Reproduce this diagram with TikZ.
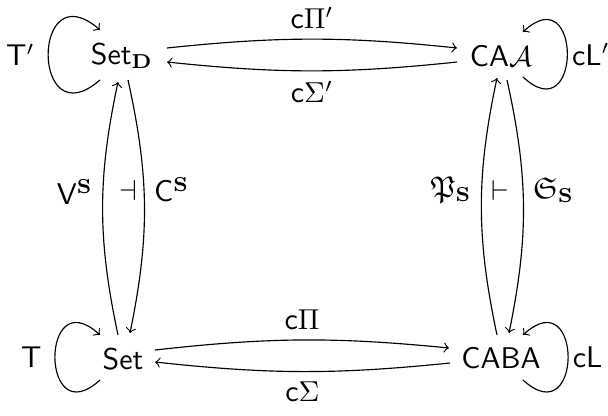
\documentclass[tikz,border=0pt]{standalone}
\usepackage{amsmath}
\usepackage{amssymb}
\usetikzlibrary{calc}

\begin{document}
\begin{tikzpicture}[x=0.01221cm, y=-0.01221cm,
  every node/.append style={font=\fontsize{10.4}{12.5}\selectfont\sffamily},
  obj/.style={inner sep=0pt, anchor=base},
  lbl/.style={},
  looplbl/.style={inner sep=1.5pt},
  arrow/.style={->}
]
  \useasboundingbox (0,0) rectangle (608,415);

  % objects
  \node[obj] (setd) at (122,64) {Set$_{\mathbf{D}}$};
  \node[obj] (caa) at (501,66) {CA$\mathcal{A}$};
  \node[obj] (set) at (123,369) {Set};
  \node[obj] (caba) at (501,368) {CABA};

  % horizontal pairs
  \draw[arrow] ([shift={(45,-16)}]setd.base) to[bend left=6] node[lbl, above] {c$\Pi'$} ([shift={(-44,-18)}]caa.base);
  \draw[arrow] ([shift={(-44,-4)}]caa.base) to[bend left=6] node[lbl, below] {c$\Sigma'$} ([shift={(45,-2)}]setd.base);
  \draw[arrow] ([shift={(32,-19)}]set.base) to[bend left=6] node[lbl, above] {c$\Pi$} ([shift={(-52,-20)}]caba.base);
  \draw[arrow] ([shift={(-51,-5)}]caba.base) to[bend left=6] node[lbl, below] {c$\Sigma$} ([shift={(32,-7)}]set.base);

  % vertical pairs
  \draw[arrow] ([shift={(-5,-34)}]set.base) to[bend left=12] node[lbl, left, pos=0.57] {V$^{\mathbf{S}}$} ([shift={(-4,18)}]setd.base);
  \draw[arrow] ([shift={(6,16)}]setd.base) to[bend left=12] node[lbl, right, pos=0.43] {C$^{\mathbf{S}}$} ([shift={(7,-36)}]set.base);
  \node[lbl] (adjl) at (128,190) {$\dashv$};
  \draw[arrow] ([shift={(-4,-33)}]caba.base) to[bend left=12] node[lbl, left, pos=0.57] {$\mathfrak{P}_{\mathbf{S}}$} ([shift={(-4,12)}]caa.base);
  \draw[arrow] ([shift={(6,14)}]caa.base) to[bend left=12] node[lbl, right, pos=0.43] {$\mathfrak{S}_{\mathbf{S}}$} ([shift={(8,-35)}]caba.base);
  \node[lbl] (adjr) at (500,190) {$\vdash$};

  % loops
  \draw[arrow] ([shift={(-22,16)}]setd.base) .. controls +(-69,60) and +(-69,-60) .. ([shift={(-22,-34)}]setd.base) node[looplbl, left=3pt, pos=0.5] {T$'$};
  \draw[arrow] ([shift={(22,11)}]caa.base) .. controls +(59,55) and +(59,-55) .. ([shift={(22,-34)}]caa.base) node[looplbl, right, pos=0.5] {cL$'$};
  \draw[arrow] ([shift={(-23,11)}]set.base) .. controls +(-60,55) and +(-60,-55) .. ([shift={(-23,-34)}]set.base) node[looplbl, left=3pt, pos=0.5] {T};
  \draw[arrow] ([shift={(22,12)}]caba.base) .. controls +(60,55) and +(60,-55) .. ([shift={(22,-33)}]caba.base) node[looplbl, right, pos=0.5] {cL};
\end{tikzpicture}
\end{document}
